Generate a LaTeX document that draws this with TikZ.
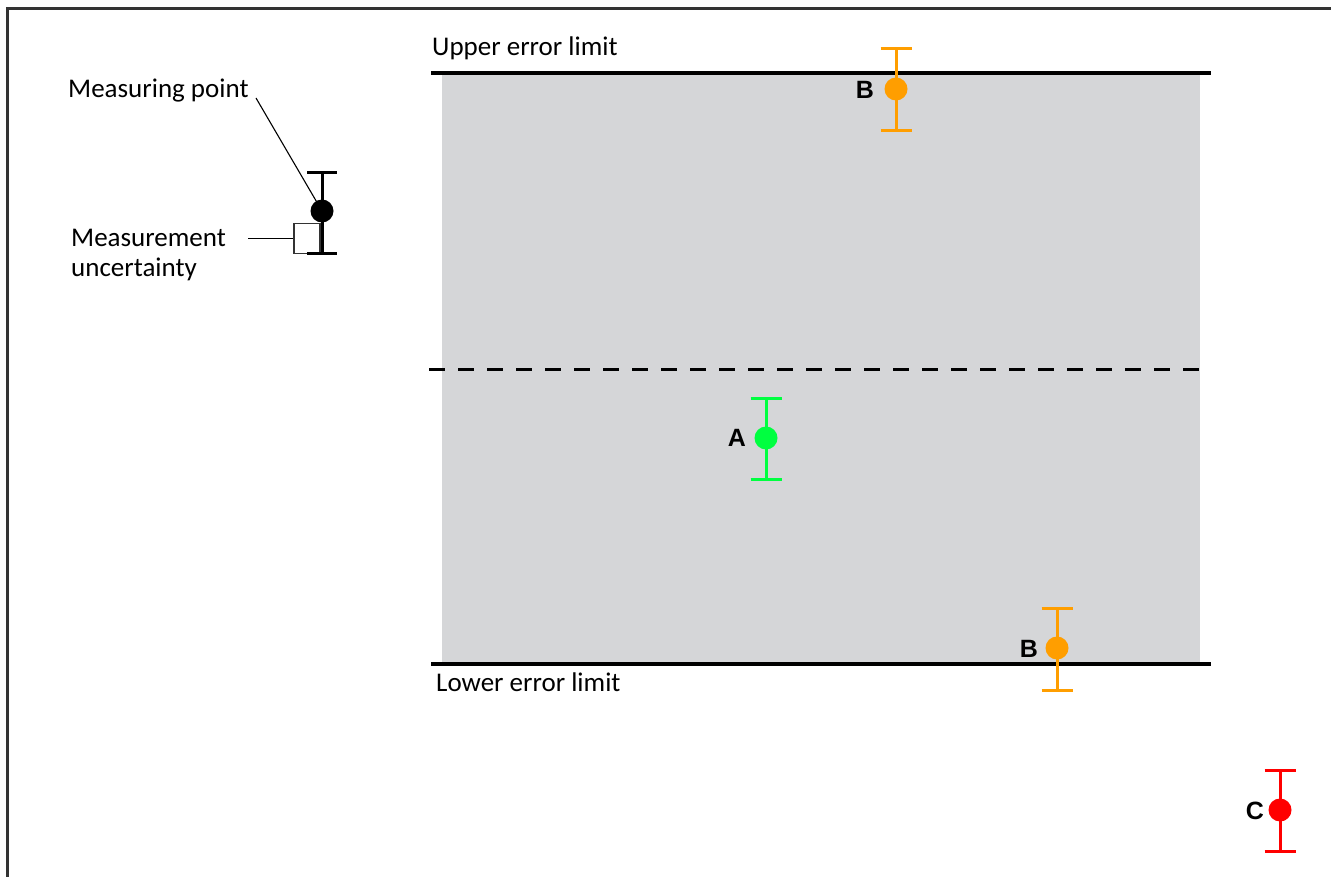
\documentclass[tikz,border=0pt]{standalone}
\usepackage{fontspec}
\setmainfont{Carlito}
\newfontfamily\lblfont{Liberation Sans}
\definecolor{bandgray}{HTML}{D5D6D8}
\definecolor{borderc}{HTML}{333333}
\definecolor{orangeB}{HTML}{FF9E00}
\definecolor{greenA}{HTML}{00FF40}
\definecolor{redC}{HTML}{FF0000}
\begin{document}
\begin{tikzpicture}[x=1pt,y=-1pt,
  limitline/.style={line width=3.4pt, black},
  ebar/.style={line width=3pt},
  dot/.style={circle, inner sep=0pt, minimum size=23pt, draw=none},
  ptlabel/.style={font=\lblfont\bfseries\fontsize{25}{25}\selectfont, inner sep=0pt},
  txt/.style={font=\fontsize{27}{31}\selectfont, inner sep=0pt, anchor=base west},
]
\useasboundingbox (0,0) rectangle (1331,877);
% frame
\draw[borderc, line width=3pt] (7,877) -- (7,9) -- (1331,9);
% band
\fill[bandgray] (442,73) rectangle (1200,664);
\coordinate (ul1) at (431,73); \coordinate (ul2) at (1211,73);
\coordinate (ll1) at (431,664); \coordinate (ll2) at (1211,664);
\coordinate (ml1) at (429,369); \coordinate (ml2) at (1210,369);
\draw[limitline] (ul1) -- (ul2);
\draw[limitline] (ll1) -- (ll2);
\draw[line width=3pt, dash pattern=on 16pt off 13pt] (ml1) -- (ml2);
\node[txt] (upper) at (432,56) {Upper error limit};
\node[txt] (lower) at (436,691) {Lower error limit};

% legend
\coordinate (kt) at (322,173); \coordinate (kb) at (322,254);
\node[draw=borderc, line width=1.2pt, fill=white, minimum width=26pt, minimum height=30pt, inner sep=0pt] (ubox) at (307,238.5) {};
\draw[ebar, black] (kt) -- (kb);
\draw[ebar, black] ([xshift=-15]kt) -- ([xshift=15]kt);
\draw[ebar, black] ([xshift=-15]kb) -- ([xshift=15]kb);
\node[dot, fill=black] (kdot) at (322,211) {};
\node[txt] (mp) at (68,98) {Measuring point};
\node[txt] (mu1) at (71,247) {Measurement};
\node[txt] (mu2) at (71,277) {uncertainty};
\coordinate (mpend) at (256,98);
\coordinate (muend) at (248,238.5);
\draw[line width=1.1pt] (mpend) -- (kdot.center);
\draw[line width=1.1pt] (muend) -- (ubox.west);

% B upper
\coordinate (b1t) at (896,49); \coordinate (b1b) at (896,131);
\draw[ebar, orangeB] (b1t) -- (b1b);
\draw[ebar, orangeB] ([xshift=-15.5]b1t) -- ([xshift=15.5]b1t);
\draw[ebar, orangeB] ([xshift=-15.5]b1b) -- ([xshift=15.5]b1b);
\node[dot, fill=orangeB] (b1) at (896,89) {};
\node[ptlabel] (b1l) at (865,90) {B};

% A
\coordinate (at) at (766,398); \coordinate (ab) at (766,479);
\draw[ebar, greenA] (at) -- (ab);
\draw[ebar, greenA] ([xshift=-15.5]at) -- ([xshift=15.5]at);
\draw[ebar, greenA] ([xshift=-15.5]ab) -- ([xshift=15.5]ab);
\node[dot, fill=greenA] (adot) at (766,438) {};
\node[ptlabel] (al) at (737,438) {A};

% B lower
\coordinate (b2t) at (1057,608); \coordinate (b2b) at (1057,690);
\draw[ebar, orangeB] (b2t) -- (b2b);
\draw[ebar, orangeB] ([xshift=-15.5]b2t) -- ([xshift=15.5]b2t);
\draw[ebar, orangeB] ([xshift=-15.5]b2b) -- ([xshift=15.5]b2b);
\node[dot, fill=orangeB] (b2) at (1057,648) {};
\node[ptlabel] (b2l) at (1029,649) {B};

% C
\coordinate (ct) at (1280,770); \coordinate (cb) at (1280,851);
\draw[ebar, redC] (ct) -- (cb);
\draw[ebar, redC] ([xshift=-15.5]ct) -- ([xshift=15.5]ct);
\draw[ebar, redC] ([xshift=-15.5]cb) -- ([xshift=15.5]cb);
\node[dot, fill=redC] (cdot) at (1280,810) {};
\node[ptlabel] (cl) at (1255,811) {C};
\end{tikzpicture}
\end{document}
